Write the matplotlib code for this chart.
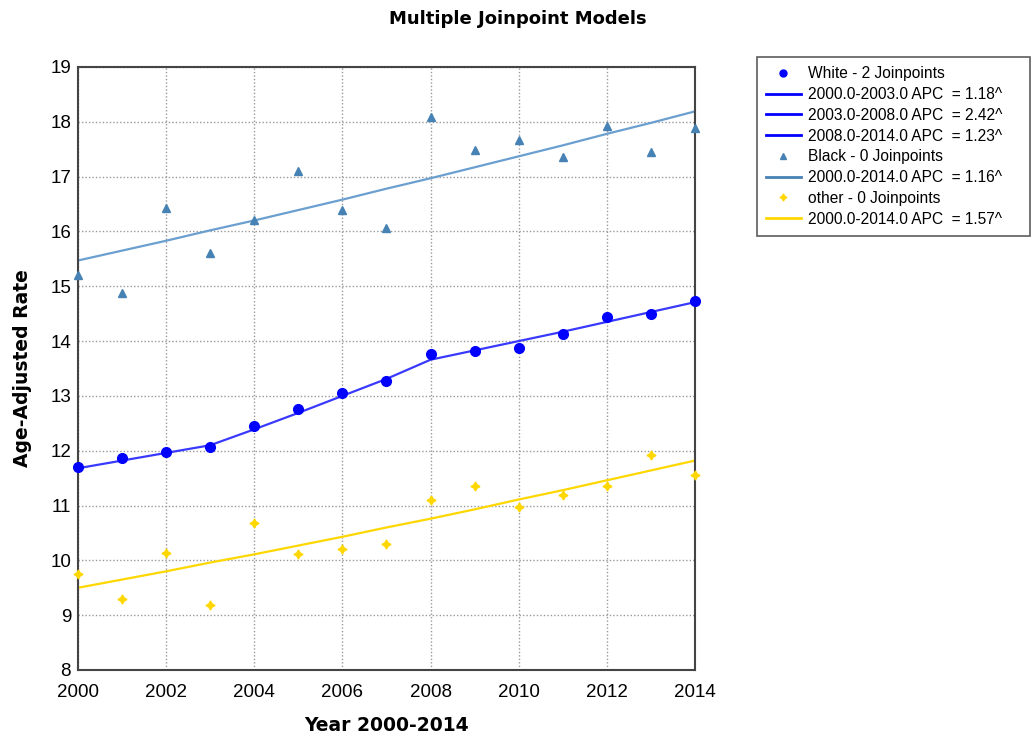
import matplotlib.pyplot as plt
from matplotlib.lines import Line2D

plt.rcParams['font.family'] = ['Liberation Sans', 'DejaVu Sans']

years = list(range(2000, 2015))

# observed age-adjusted rates
white_obs = [11.70, 11.87, 11.97, 12.07, 12.45, 12.76, 13.05, 13.27, 13.77, 13.82, 13.88, 14.12, 14.43, 14.50, 14.73]
black_obs = [15.20, 14.87, 16.43, 15.60, 16.20, 17.10, 16.40, 16.07, 18.08, 17.48, 17.67, 17.35, 17.93, 17.45, 17.88]
other_obs = [9.75, 9.30, 10.13, 9.18, 10.69, 10.11, 10.20, 10.29, 11.10, 11.35, 10.98, 11.19, 11.36, 11.93, 11.55]

# fitted joinpoint values
white_fit = [11.68, 11.82, 11.96, 12.10, 12.39, 12.69, 13.00, 13.31, 13.66, 13.83, 14.00, 14.17, 14.35, 14.53, 14.71]
black_fit = [15.47, 15.65, 15.83, 16.02, 16.20, 16.39, 16.58, 16.78, 16.97, 17.17, 17.37, 17.57, 17.78, 17.98, 18.19]
other_fit = [9.50, 9.65, 9.80, 9.96, 10.11, 10.27, 10.43, 10.60, 10.76, 10.93, 11.11, 11.28, 11.46, 11.64, 11.82]

legend_labels = [
    "White - 2 Joinpoints",
    "2000.0-2003.0 APC  = 1.18^",
    "2003.0-2008.0 APC  = 2.42^",
    "2008.0-2014.0 APC  = 1.23^",
    "Black - 0 Joinpoints",
    "2000.0-2014.0 APC  = 1.16^",
    "other - 0 Joinpoints",
    "2000.0-2014.0 APC  = 1.57^",
]

WHITE_C = "#0000FF"
WHITE_LINE = "#3a3aff"
BLACK_C = "#4682B4"
BLACK_LINE = "#6a9fcf"
OTHER_C = "#FFD700"

fig = plt.figure(figsize=(10.32, 7.4), dpi=100)
ax = fig.add_axes([0.0756, 0.0946, 0.5978, 0.8149])

ax.plot(years, black_fit, color=BLACK_LINE, lw=1.6, zorder=2)
ax.plot(years, white_fit, color=WHITE_LINE, lw=1.6, zorder=2)
ax.plot(years, other_fit, color=OTHER_C, lw=1.6, zorder=2)

ax.plot(years, black_obs, ls="none", marker="^", ms=6, color=BLACK_C, clip_on=False, zorder=3)
ax.plot(years, white_obs, ls="none", marker="o", ms=7, color=WHITE_C, clip_on=False, zorder=3)
ax.plot(years, other_obs, ls="none", marker=(4, 1, 0), ms=6.5, color=OTHER_C, clip_on=False, zorder=3)

ax.set_xlim(2000, 2014)
ax.set_ylim(8, 19)
ax.set_xticks(range(2000, 2015, 2))
ax.set_yticks(range(8, 20))
ax.tick_params(length=0, labelsize=13.5)
ax.tick_params(axis="x", pad=10)
ax.tick_params(axis="y", pad=5)
ax.grid(True, color="#999999", ls=(0, (1, 1.5)), lw=1)
for s in ax.spines.values():
    s.set_color("#444444")
    s.set_linewidth(1.5)

ax.set_xlabel("Year 2000-2014", family="DejaVu Sans", fontweight="bold", fontsize=13.5, labelpad=11)
ax.set_ylabel("Age-Adjusted Rate", family="DejaVu Sans", fontweight="bold", fontsize=13.5, labelpad=13)
fig.text(0.502, 0.974, "Multiple Joinpoint Models", family="DejaVu Sans",
         fontweight="bold", fontsize=13, ha="center", va="center")

handles = [
    Line2D([], [], ls="none", marker="o", ms=5, color=WHITE_C),
    Line2D([], [], color=WHITE_C, lw=2),
    Line2D([], [], color=WHITE_C, lw=2),
    Line2D([], [], color=WHITE_C, lw=2),
    Line2D([], [], ls="none", marker="^", ms=5, color=BLACK_C),
    Line2D([], [], color=BLACK_C, lw=2),
    Line2D([], [], ls="none", marker=(4, 1, 0), ms=5, color=OTHER_C),
    Line2D([], [], color=OTHER_C, lw=2),
]
leg = fig.legend(handles, legend_labels, loc="upper left",
                 bbox_to_anchor=(757 / 1032, 1 - 238 / 740, 273 / 1032, 181 / 740),
                 mode="expand", fontsize=11.2, frameon=True, fancybox=False, borderpad=0.6,
                 labelspacing=0.37, handlelength=2.2, handletextpad=0.5, borderaxespad=0)
leg.get_frame().set_edgecolor("#333333")
leg.get_frame().set_linewidth(1.2)

fig.savefig("out.png", dpi=100)
